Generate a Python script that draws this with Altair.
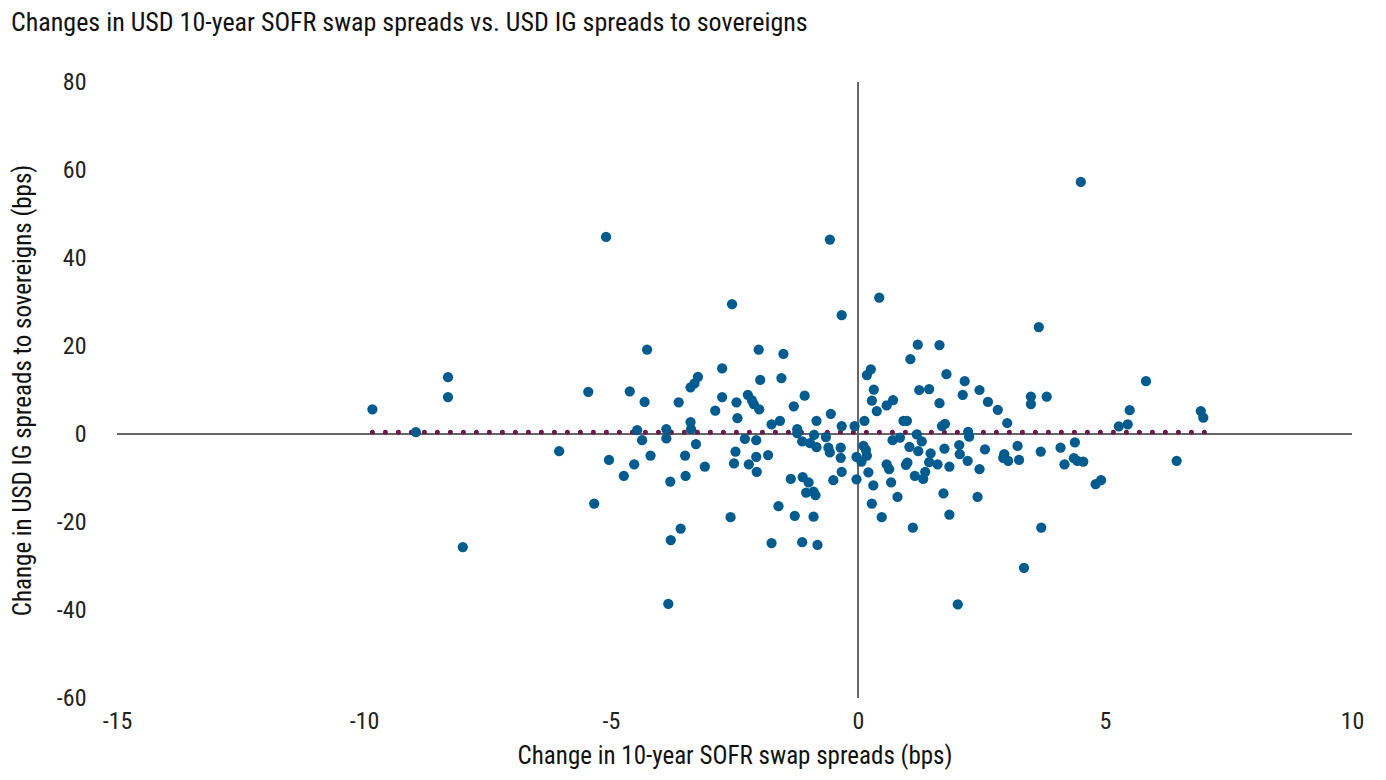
import altair as alt
import pandas as pd

# Change in 10-year SOFR swap spreads (bps)
swap_chg = [
    -9.83, -8.95, -8.30, -8.30, -8.00, -6.05, -5.46, -5.34, -5.10, -5.04,
    -4.74, -4.62, -4.53, -4.47, -4.37, -4.32, -4.27, -4.20, -3.88, -3.88,
    -3.80, -3.79, -3.84, -3.63, -3.59, -3.50, -3.49, -3.39, -3.31, -3.24,
    -3.39, -3.38, -3.28, -3.10, -2.89, -2.75, -2.75, -2.58, -2.55, -2.51,
    -2.48, -2.46, -2.44, -2.29, -2.23, -2.21, -2.15, -2.11, -2.06, -2.06,
    -2.05, -2.01, -1.98, -2.00, -1.82, -1.75, -1.75, -1.61, -1.58, -1.55,
    -1.51, -1.36, -1.30, -1.28, -1.23, -1.23, -1.13, -1.12, -1.13, -1.08,
    -1.05, -1.00, -0.97, -0.90, -0.86, -0.90, -0.82, -0.89, -0.84, -0.84,
    -0.65, -0.60, -0.57, -0.57, -0.55, -0.50, -0.35, -0.35, -0.33, -0.33,
    -0.33, -0.07, -0.03, -0.03, 0.07, 0.11, 0.13, 0.16, 0.18, 0.18,
    0.21, 0.26, 0.28, 0.28, 0.31, 0.32, 0.38, 0.43, 0.48, 0.58,
    0.58, 0.63, 0.67, 0.70, 0.71, 0.80, 0.85, 0.92, 0.99, 0.97,
    1.00, 1.04, 1.06, 1.11, 1.15, 1.19, 1.21, 1.22, 1.24, 1.29,
    1.32, 1.36, 1.44, 1.44, 1.47, 1.61, 1.65, 1.65, 1.70, 1.76,
    1.73, 1.75, 1.79, 1.85, 1.85, 2.02, 2.05, 2.06, 2.12, 2.16,
    2.22, 2.23, 2.25, 2.42, 2.46, 2.46, 2.57, 2.63, 2.83, 2.94,
    2.96, 3.02, 3.04, 3.23, 3.26, 3.36, 3.50, 3.50, 3.66, 3.70,
    3.71, 3.82, 4.10, 4.18, 4.37, 4.39, 4.44, 4.51, 4.56, 4.81,
    4.92, 5.28, 5.46, 5.50, 5.83, 6.45, 6.94, 6.99,
]

# Change in USD IG spreads to sovereigns (bps)
ig_chg = [
    5.6, 0.4, 12.9, 8.4, -25.7, -3.9, 9.6, -15.8, 44.8, -5.9,
    -9.5, 9.7, -6.9, 0.9, -1.4, 7.3, 19.2, -4.9, 1.1, -1.0,
    -10.8, -24.1, -38.6, 7.2, -21.5, -4.9, -9.5, 10.6, 11.5, 13.0,
    2.7, 1.1, -2.3, -7.4, 5.3, 14.9, 8.4, -18.9, 29.5, -6.7,
    -4.0, 7.2, 3.6, -1.1, 8.9, -6.9, 7.7, 6.8, -1.4, -5.2,
    -8.6, 19.2, 12.3, 5.6, -4.8, 2.2, -24.8, -16.4, 3.0, 12.7,
    18.2, -10.2, 6.3, -18.6, 1.1, 0.2, -24.6, -9.8, -1.7, 8.7,
    -13.3, -11.0, -2.1, -13.1, -13.9, -18.8, -25.2, -0.2, 3.0, -3.0,
    -0.7, -3.1, -4.2, 44.2, 4.6, -10.5, -3.1, -5.4, -8.6, 27.0,
    1.8, 1.8, -5.2, -10.3, -6.3, -2.7, 3.0, -3.6, -4.9, 13.4,
    -8.7, 14.7, 7.6, -15.8, -11.7, 10.1, 5.2, 31.0, -18.9, 6.5,
    -6.9, -8.0, -11.0, -1.4, 7.7, -14.3, -0.8, 3.0, 3.0, -7.0,
    -6.5, -2.9, 17.0, -21.3, -9.5, -0.1, 20.3, -3.9, 10.0, -1.7,
    -10.2, -8.6, 10.2, -6.4, -4.4, -6.9, 20.2, 7.0, 1.8, 2.3,
    -13.5, -3.3, 13.6, -7.4, -18.3, -38.7, -2.5, -4.6, 8.9, 12.0,
    -6.1, 0.5, -0.6, -14.3, 10.0, -8.0, -3.5, 7.3, 5.5, -5.4,
    -4.6, 2.5, -6.1, -2.7, -5.9, -30.4, 8.5, 6.8, 24.3, -4.0,
    -21.3, 8.5, -3.1, -6.9, -5.5, -1.9, -6.1, 57.3, -6.3, -11.4,
    -10.5, 1.75, 2.2, 5.4, 12.0, -6.1, 5.2, 3.7,
]

# Trend line: endpoints
trend_x = [-9.83, 7.02]
trend_y = [0.4, 0.4]

x_ticks = [-15, -10, -5, 0, 5, 10]
y_ticks = [-60, -40, -20, 0, 20, 40, 60, 80]

FONT = "Liberation Sans Narrow, Roboto Condensed, Roboto, sans-serif"

pts = pd.DataFrame({"x": swap_chg, "y": ig_chg})
trend = pd.DataFrame({"x": trend_x, "y": trend_y})
zero = pd.DataFrame({"v": [0]})

xs = alt.Scale(domain=[-15, 10], nice=False, zero=False)
ys = alt.Scale(domain=[-60, 80], nice=False, zero=False)

xaxis = alt.Axis(values=x_ticks, grid=False, domain=False, ticks=False,
                 labelExpr="toString(datum.value)", labelFlush=False, labelOverlap=False,
                 labelPadding=11, labelFontSize=24, labelFont=FONT, labelColor="#222222",
                 title="Change in 10-year SOFR swap spreads (bps)", titleFontSize=25,
                 titleFont=FONT, titleFontWeight="normal", titleColor="#111111", titlePadding=10)
yaxis = alt.Axis(values=y_ticks, grid=False, domain=False, ticks=False,
                 labelExpr="toString(datum.value)", labelFlush=False, labelOverlap=False,
                 labelPadding=31, labelFontSize=24, labelFont=FONT, labelColor="#222222",
                 title="Change in USD IG spreads to sovereigns (bps)", titleFontSize=25,
                 titleFont=FONT, titleFontWeight="normal", titleColor="#111111", titlePadding=21)

vline = alt.Chart(zero).mark_rule(color="#666666", strokeWidth=2).encode(x=alt.X("v:Q", scale=xs))
hline = alt.Chart(zero).mark_rule(color="#666666", strokeWidth=2).encode(y=alt.Y("v:Q", scale=ys))

trend_line = alt.Chart(trend).mark_line(
    color="#6A1A4C", strokeWidth=5, strokeCap="round", strokeDash=[0, 13]
).encode(x=alt.X("x:Q", scale=xs), y=alt.Y("y:Q", scale=ys))

points = alt.Chart(pts).mark_circle(size=105, color="#005B8F", opacity=1).encode(
    x=alt.X("x:Q", scale=xs, axis=xaxis),
    y=alt.Y("y:Q", scale=ys, axis=yaxis),
)

chart = alt.layer(vline, hline, trend_line, points).properties(
    width=1235,
    height=616,
    title=alt.TitleParams(
        "Changes in USD 10-year SOFR swap spreads vs. USD IG spreads to sovereigns",
        anchor="start", frame="group", dx=-106, offset=34, fontSize=26, font=FONT,
        fontWeight="normal", color="#111111",
    ),
    autosize=alt.AutoSizeParams(type="none"),
    padding={"left": 109, "top": 74, "right": 20, "bottom": 80},
).configure_view(stroke=None)

chart.save("out.html", embed_options={"renderer": "svg", "actions": False})
